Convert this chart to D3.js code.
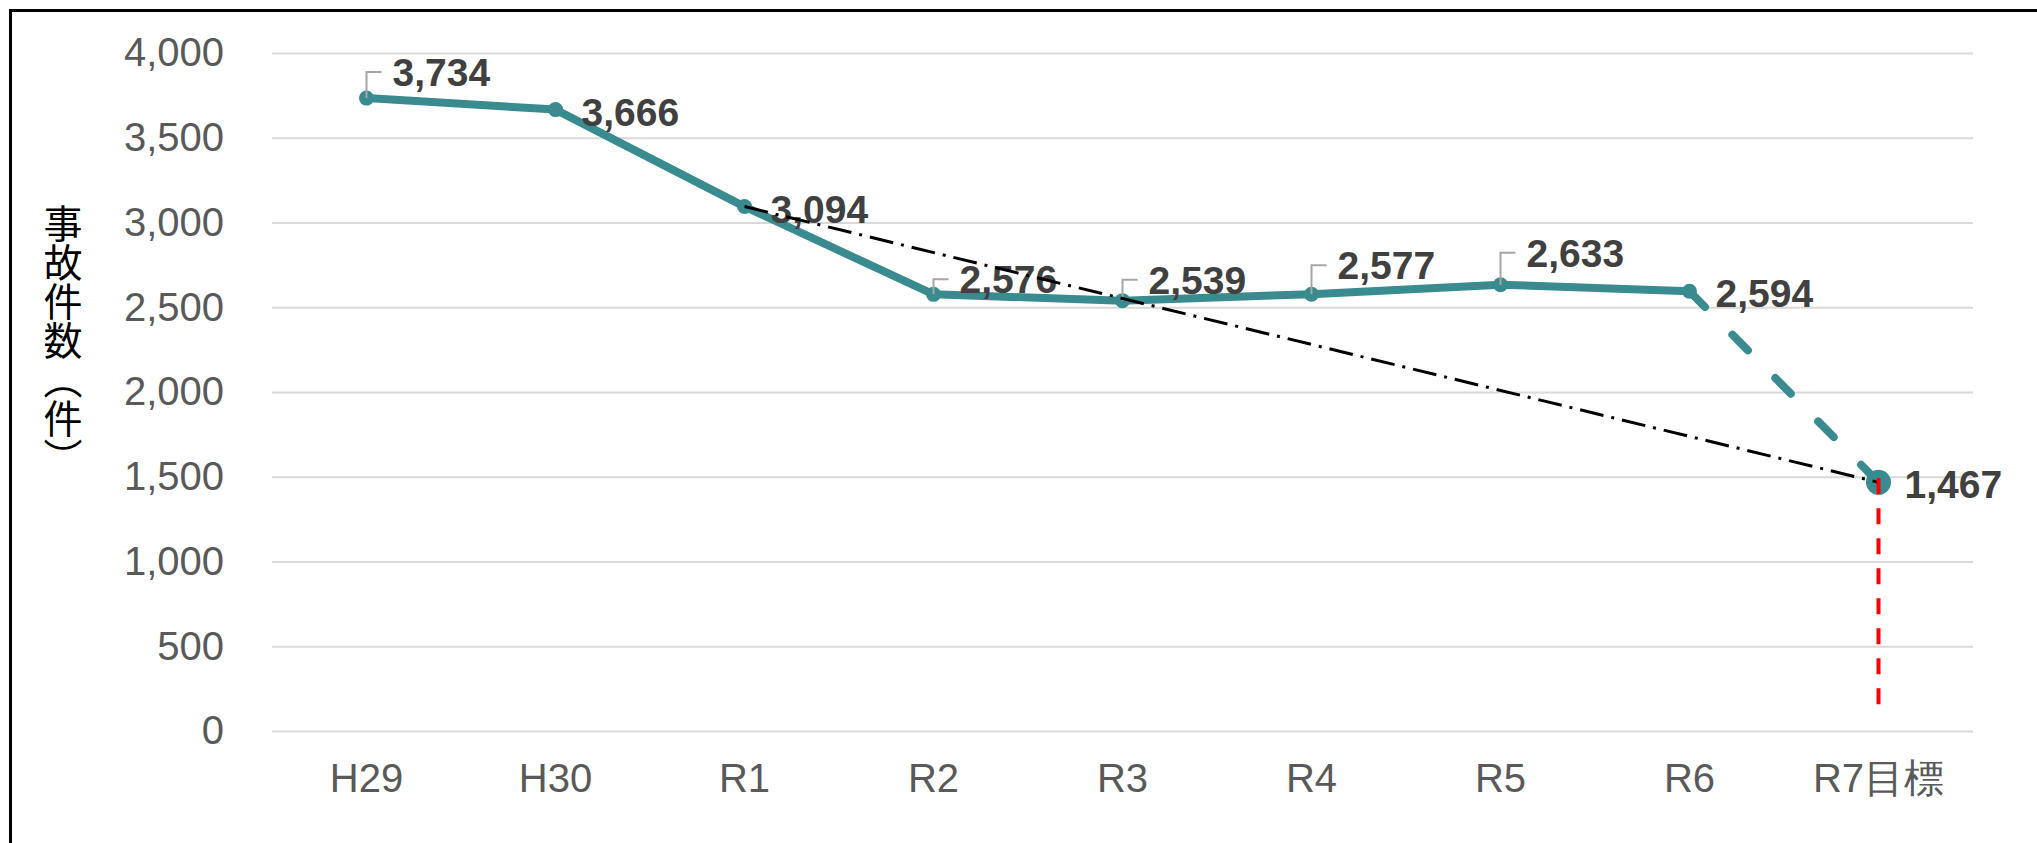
<!DOCTYPE html>
<html>
<head>
<meta charset="utf-8">
<script src="https://cdn.jsdelivr.net/npm/d3@7/dist/d3.min.js"></script>
<style>
  body { margin: 0; background: #ffffff; }
  svg { display: block; font-family: Arial, "Liberation Sans", "Noto Sans CJK JP", sans-serif; }
</style>
</head>
<body>
<svg id="chart"></svg>
<script>
// fiscal years on the x axis, last one is the target
const categories = ['H29', 'H30', 'R1', 'R2', 'R3', 'R4', 'R5', 'R6', 'R7目標'];
// accident counts
const accidents = [3734, 3666, 3094, 2576, 2539, 2577, 2633, 2594, 1467];
const yTicks = [0, 500, 1000, 1500, 2000, 2500, 3000, 3500, 4000];
const yTitle = '事故件数（件）';
// trend line runs from R1 to the target
const trendStart = 'R1';
const trendEnd = 'R7目標';

const width = 2037;
const height = 843;
const margin = {top: 53, right: 64, bottom: 112, left: 272};
const innerW = width - margin.left - margin.right;
const innerH = height - margin.top - margin.bottom;
const teal = '#3a8b8f';

// how each value label sits: 'right' of the point, or lifted with a leader line
const labelLayout = [
    {kind: 'leader', lift: 26},
    {kind: 'right'},
    {kind: 'right'},
    {kind: 'leader', lift: 15},
    {kind: 'leader', lift: 21},
    {kind: 'leader', lift: 29},
    {kind: 'leader', lift: 32},
    {kind: 'right'},
    {kind: 'right'}
];

const data = categories.map((c, i) => ({cat: c, value: accidents[i], layout: labelLayout[i]}));

const svg = d3.select('#chart')
    .attr('width', width)
    .attr('height', height);

// outer frame (only top and left edges fall inside the picture)
svg.append('rect')
    .attr('x', 10.5)
    .attr('y', 10.5)
    .attr('width', width + 50)
    .attr('height', height + 50)
    .attr('fill', 'none')
    .attr('stroke', '#000')
    .attr('stroke-width', 3);

const g = svg.append('g')
    .attr('transform', `translate(${margin.left},${margin.top})`);

const x = d3.scaleBand()
    .domain(categories)
    .range([0, innerW]);
const y = d3.scaleLinear()
    .domain([0, 4000])
    .range([innerH, 0]);
const cx = c => x(c) + x.bandwidth() / 2;

// y gridlines + labels
const yAxis = g.append('g')
    .call(d3.axisLeft(y)
        .tickValues(yTicks)
        .tickSize(-innerW)
        .tickPadding(48)
        .tickFormat(d3.format(',')));
yAxis.select('.domain').remove();
yAxis.selectAll('line')
    .attr('stroke', '#d9d9d9')
    .attr('stroke-width', 2);
yAxis.selectAll('text')
    .attr('fill', '#595959')
    .style('font-size', '40px')
    .style('font-family', 'Arial, "Liberation Sans", sans-serif');

// x labels
const xAxis = g.append('g')
    .attr('transform', `translate(0,${innerH})`)
    .call(d3.axisBottom(x).tickSize(0).tickPadding(33));
xAxis.select('.domain').remove();
xAxis.selectAll('text')
    .attr('fill', '#595959')
    .style('font-size', '40px');

// vertical axis title
svg.append('text')
    .attr('x', 63)
    .attr('y', 204)
    .attr('writing-mode', 'vertical-rl')
    .style('font-family', '"Noto Sans CJK JP", sans-serif')
    .style('font-size', '39px')
    .attr('fill', '#000')
    .text(yTitle);

// actual series
const line = d3.line()
    .x(d => cx(d.cat))
    .y(d => y(d.value));

g.append('path')
    .datum(data.slice(0, 8))
    .attr('d', line)
    .attr('fill', 'none')
    .attr('stroke', teal)
    .attr('stroke-width', 8)
    .attr('stroke-linejoin', 'round');

// R6 -> target, dashed
g.append('path')
    .datum(data.slice(7))
    .attr('d', line)
    .attr('fill', 'none')
    .attr('stroke', teal)
    .attr('stroke-width', 8)
    .attr('stroke-linecap', 'round')
    .attr('stroke-dasharray', '22,39');

g.selectAll('circle.pt')
    .data(data)
    .enter()
    .append('circle')
    .attr('class', 'pt')
    .attr('cx', d => cx(d.cat))
    .attr('cy', d => y(d.value))
    .attr('r', (d, i) => (i === data.length - 1 ? 12.5 : 7.5))
    .attr('fill', teal);

// value labels
const labels = g.append('g');
labels.selectAll('text')
    .data(data)
    .enter()
    .append('text')
    .attr('x', d => cx(d.cat) + 26)
    .attr('y', d => (d.layout.kind === 'leader'
        ? y(d.value) - d.layout.lift + 14
        : y(d.value) + 16))
    .attr('fill', '#404040')
    .style('font-size', '39px')
    .style('font-weight', 'bold')
    .style('font-family', 'Arial, "Liberation Sans", sans-serif')
    .text(d => d3.format(',')(d.value));

labels.selectAll('path')
    .data(data.filter(d => d.layout.kind === 'leader'))
    .enter()
    .append('path')
    .attr('d', d => {
        const px = cx(d.cat);
        const py = y(d.value);
        return `M${px},${py}V${py - d.layout.lift}h15`;
    })
    .attr('fill', 'none')
    .attr('stroke', '#a6a6a6')
    .attr('stroke-width', 2);

// trend line R1 -> target
const s = data.find(d => d.cat === trendStart);
const e = data.find(d => d.cat === trendEnd);
g.append('line')
    .attr('x1', cx(s.cat))
    .attr('y1', y(s.value))
    .attr('x2', cx(e.cat))
    .attr('y2', y(e.value))
    .attr('stroke', '#000')
    .attr('stroke-width', 3)
    .attr('stroke-dasharray', '24,8,3,8');

// red drop line under the target
g.append('line')
    .attr('x1', cx(e.cat))
    .attr('x2', cx(e.cat))
    .attr('y1', y(e.value) - 4)
    .attr('y2', y(0) - 24)
    .attr('stroke', '#ff0000')
    .attr('stroke-width', 4)
    .attr('stroke-dasharray', '16,14');
</script>
</body>
</html>
